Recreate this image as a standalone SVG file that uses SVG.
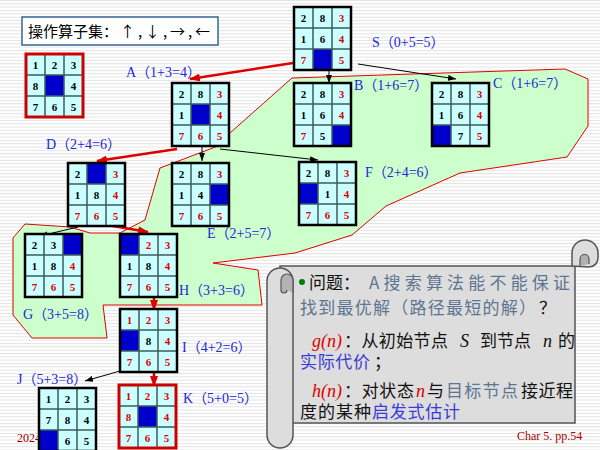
<svg xmlns="http://www.w3.org/2000/svg" xmlns:xlink="http://www.w3.org/1999/xlink" width="600" height="450" viewBox="0 0 600 450">
<style>
.n{font-family:"Liberation Serif",serif;font-weight:bold;font-size:11px;text-anchor:middle}
.r{fill:#dd0000}
.k{fill:#000}
.bl{fill:#0000cc}
.lab{font-family:"Liberation Serif","Noto Sans CJK SC",serif;font-size:14px;fill:#2424dc}
.cj{font-family:"Noto Sans CJK SC",sans-serif;font-size:17px}
.it{font-family:"Liberation Serif",serif;font-style:italic;font-size:18px}
.sl{fill:#5d7590}
.bu{fill:#3b3bd8}
.ck{fill:#111}
.ka{stroke:#000;stroke-width:1;fill:none}
.ra{stroke:#dd0000;stroke-width:2.5;fill:none}
</style>
<defs>
<pattern id="stripes" width="6" height="3.33" patternUnits="userSpaceOnUse">
<rect width="6" height="3.33" fill="#fff"/>
<rect width="6" height="1" fill="#e3e3e3"/>
</pattern>
<rect id="bg" width="57" height="63" fill="#ccffff"/>
<path id="lines" d="M19,0V63M38,0V63M0,21H57M0,42H57" stroke="#3d5c5c" stroke-width="1.5" fill="none"/>
<rect id="frame" width="57" height="63" fill="none" stroke="#000" stroke-width="2.5"/>
<rect id="rframe" width="57" height="63" fill="none" stroke="#cc0000" stroke-width="3"/>
<marker id="ak" markerUnits="userSpaceOnUse" markerWidth="8" markerHeight="6" refX="8" refY="3" orient="auto"><path d="M0,0L8,3L0,6Z" fill="#000"/></marker>
<marker id="ar" markerUnits="userSpaceOnUse" markerWidth="11" markerHeight="8" refX="10" refY="4" orient="auto"><path d="M0,0L11,4L0,8Z" fill="#dd0000"/></marker>
</defs>
<rect width="600" height="450" fill="url(#stripes)"/>
<polygon id="region" points="13,238 25,224 70,227 90,233 120,233 145,220 160,168 218,146 230,133 292,78 565,69 588,79 588,126 567,157 460,173 386,206 352,235 295,253 213,263 258,270 262,305 103,305 107,338 32,338 13,315" fill="#ccffcc" stroke="#e00000" stroke-width="1"/>
<g id="title">
<rect x="22" y="17" width="196" height="28" fill="#fff" stroke="#336699" stroke-width="1.5"/>
<text x="28" y="37" font-family="Noto Sans CJK SC,sans-serif" font-size="15" fill="#000">操作算子集：</text>
<text x="120" y="37" font-family="Noto Sans CJK SC,sans-serif" font-size="15" fill="#000" textLength="90" lengthAdjust="spacing">↑,↓,→,←</text>
</g>
<text x="17" y="442" font-family="Liberation Serif,serif" font-size="12" fill="#990000">2024</text>
<g id="scroll">
<rect x="280" y="266" width="295" height="157" fill="#dddddd" stroke="#555" stroke-width="1.5"/>
<path d="M572,266 V253 A13,13 0 0 1 598,253 V258 A9,9 0 0 1 589,267 Z" fill="#dddddd" stroke="#555" stroke-width="1.5"/>
<path d="M580,266 V259 A4.5,4.5 0 0 1 589,259 V264" fill="#b0b0b0" stroke="#555" stroke-width="1.2"/>
<rect x="267" y="268" width="26" height="180" rx="13" fill="#dddddd" stroke="#555" stroke-width="1.5"/>
<path d="M293,293 V280 A6,6 0 0 0 281,280 V290 A3,3 0 0 0 287,290" fill="#b3b3b3" stroke="#555" stroke-width="1.2"/>
<circle cx="302" cy="282" r="3" fill="#008000"/>
<text class="cj ck" x="309" y="289">问题：</text>
<text class="cj sl" x="369" y="289" textLength="201" lengthAdjust="spacing">A搜索算法能不能保证</text>
<text class="cj sl" x="300" y="314" textLength="236" lengthAdjust="spacing">找到最优解（路径最短的解）</text>
<text class="cj ck" x="539" y="314">？</text>
<text class="it r" x="312" y="347">g(n)</text>
<text class="cj ck" x="344" y="347" textLength="104" lengthAdjust="spacing">：从初始节点</text>
<text class="it ck" x="460" y="347">S</text>
<text class="cj ck" x="480" y="347" textLength="51" lengthAdjust="spacing">到节点</text>
<text class="it ck" x="543" y="347">n</text>
<text class="cj ck" x="558" y="347">的</text>
<text class="cj bu" x="300" y="368" textLength="70" lengthAdjust="spacing">实际代价</text>
<text class="cj ck" x="374" y="368">；</text>
<text class="it r" x="312" y="397">h(n)</text>
<text class="cj ck" x="344" y="397" textLength="70" lengthAdjust="spacing">：对状态</text>
<text class="it r" x="416" y="397">n</text>
<text class="cj ck" x="427" y="397">与</text>
<text class="cj sl" x="446" y="397" textLength="72" lengthAdjust="spacing">目标节点</text>
<text class="cj ck" x="521" y="397" textLength="52" lengthAdjust="spacing">接近程</text>
<text class="cj ck" x="300" y="418" textLength="71" lengthAdjust="spacing">度的某种</text>
<text class="cj bu" x="372" y="418" textLength="88" lengthAdjust="spacing">启发式估计</text>
</g>
<text x="517" y="440" font-family="Liberation Serif,serif" font-size="12" fill="#aa0000">Char 5. pp.54</text>
<g id="connectors">
<line class="ra" x1="293" y1="63" x2="190" y2="79" marker-end="url(#ar)"/>
<line class="ka" x1="329" y1="69" x2="329" y2="83" marker-end="url(#ak)"/>
<line class="ka" x1="358" y1="64" x2="456" y2="79" marker-end="url(#ak)"/>
<line class="ra" x1="177" y1="149" x2="97" y2="161" marker-end="url(#ar)"/>
<line class="ka" x1="202" y1="146" x2="202" y2="161" marker-end="url(#ak)"/>
<line class="ka" x1="220" y1="149" x2="318" y2="160" marker-end="url(#ak)"/>
<line class="ka" x1="78" y1="227" x2="40" y2="236" marker-end="url(#ak)"/>
<line class="ra" x1="107" y1="225" x2="148" y2="232" marker-end="url(#ar)"/>
<line class="ra" x1="154" y1="297" x2="154" y2="310" marker-end="url(#ar)"/>
<line class="ka" x1="120" y1="371" x2="85" y2="381" marker-end="url(#ak)"/>
<line class="ra" x1="154" y1="372" x2="154" y2="386" marker-end="url(#ar)"/>
</g>
<g id="goal" transform="translate(26,54)">
<use href="#bg"/><rect class="bl" x="19" y="21" width="19" height="21"/><use href="#lines"/>
<text class="n k" x="9.5" y="14.5">1</text><text class="n k" x="28.5" y="14.5">2</text><text class="n k" x="47.5" y="14.5">3</text>
<text class="n k" x="9.5" y="35.5">8</text><text class="n k" x="47.5" y="35.5">4</text>
<text class="n k" x="9.5" y="56.5">7</text><text class="n k" x="28.5" y="56.5">6</text><text class="n k" x="47.5" y="56.5">5</text>
<use href="#rframe"/>
</g>
<g id="S" transform="translate(294,7)">
<use href="#bg"/><rect class="bl" x="19" y="42" width="19" height="21"/><use href="#lines"/>
<text class="n k" x="9.5" y="14.5">2</text><text class="n k" x="28.5" y="14.5">8</text><text class="n r" x="47.5" y="14.5">3</text>
<text class="n k" x="9.5" y="35.5">1</text><text class="n k" x="28.5" y="35.5">6</text><text class="n r" x="47.5" y="35.5">4</text>
<text class="n r" x="9.5" y="56.5">7</text><text class="n r" x="47.5" y="56.5">5</text>
<use href="#frame"/>
</g>
<g id="B" transform="translate(294,83)">
<use href="#bg"/><rect class="bl" x="38" y="42" width="19" height="21"/><use href="#lines"/>
<text class="n k" x="9.5" y="14.5">2</text><text class="n k" x="28.5" y="14.5">8</text><text class="n r" x="47.5" y="14.5">3</text>
<text class="n k" x="9.5" y="35.5">1</text><text class="n k" x="28.5" y="35.5">6</text><text class="n r" x="47.5" y="35.5">4</text>
<text class="n r" x="9.5" y="56.5">7</text><text class="n k" x="28.5" y="56.5">5</text>
<use href="#frame"/>
</g>
<g id="C" transform="translate(432,83)">
<use href="#bg"/><rect class="bl" x="0" y="42" width="19" height="21"/><use href="#lines"/>
<text class="n k" x="9.5" y="14.5">2</text><text class="n k" x="28.5" y="14.5">8</text><text class="n r" x="47.5" y="14.5">3</text>
<text class="n k" x="9.5" y="35.5">1</text><text class="n k" x="28.5" y="35.5">6</text><text class="n r" x="47.5" y="35.5">4</text>
<text class="n k" x="28.5" y="56.5">7</text><text class="n r" x="47.5" y="56.5">5</text>
<use href="#frame"/>
</g>
<g id="A" transform="translate(172,83)">
<use href="#bg"/><rect class="bl" x="19" y="21" width="19" height="21"/><use href="#lines"/>
<text class="n k" x="9.5" y="14.5">2</text><text class="n k" x="28.5" y="14.5">8</text><text class="n r" x="47.5" y="14.5">3</text>
<text class="n k" x="9.5" y="35.5">1</text><text class="n r" x="47.5" y="35.5">4</text>
<text class="n r" x="9.5" y="56.5">7</text><text class="n r" x="28.5" y="56.5">6</text><text class="n r" x="47.5" y="56.5">5</text>
<use href="#frame"/>
</g>
<g id="D" transform="translate(68,163)">
<use href="#bg"/><rect class="bl" x="19" y="0" width="19" height="21"/><use href="#lines"/>
<text class="n k" x="9.5" y="14.5">2</text><text class="n r" x="47.5" y="14.5">3</text>
<text class="n k" x="9.5" y="35.5">1</text><text class="n k" x="28.5" y="35.5">8</text><text class="n r" x="47.5" y="35.5">4</text>
<text class="n r" x="9.5" y="56.5">7</text><text class="n r" x="28.5" y="56.5">6</text><text class="n r" x="47.5" y="56.5">5</text>
<use href="#frame"/>
</g>
<g id="E" transform="translate(172,163)">
<use href="#bg"/><rect class="bl" x="38" y="21" width="19" height="21"/><use href="#lines"/>
<text class="n k" x="9.5" y="14.5">2</text><text class="n k" x="28.5" y="14.5">8</text><text class="n r" x="47.5" y="14.5">3</text>
<text class="n k" x="9.5" y="35.5">1</text><text class="n k" x="28.5" y="35.5">4</text>
<text class="n r" x="9.5" y="56.5">7</text><text class="n r" x="28.5" y="56.5">6</text><text class="n r" x="47.5" y="56.5">5</text>
<use href="#frame"/>
</g>
<g id="F" transform="translate(299,162)">
<use href="#bg"/><rect class="bl" x="0" y="21" width="19" height="21"/><use href="#lines"/>
<text class="n k" x="9.5" y="14.5">2</text><text class="n k" x="28.5" y="14.5">8</text><text class="n r" x="47.5" y="14.5">3</text>
<text class="n k" x="28.5" y="35.5">1</text><text class="n r" x="47.5" y="35.5">4</text>
<text class="n r" x="9.5" y="56.5">7</text><text class="n r" x="28.5" y="56.5">6</text><text class="n r" x="47.5" y="56.5">5</text>
<use href="#frame"/>
</g>
<g id="G" transform="translate(25,234)">
<use href="#bg"/><rect class="bl" x="38" y="0" width="19" height="21"/><use href="#lines"/>
<text class="n k" x="9.5" y="14.5">2</text><text class="n k" x="28.5" y="14.5">3</text>
<text class="n k" x="9.5" y="35.5">1</text><text class="n k" x="28.5" y="35.5">8</text><text class="n r" x="47.5" y="35.5">4</text>
<text class="n r" x="9.5" y="56.5">7</text><text class="n r" x="28.5" y="56.5">6</text><text class="n r" x="47.5" y="56.5">5</text>
<use href="#frame"/>
</g>
<g id="H" transform="translate(120,234)">
<use href="#bg"/><rect class="bl" x="0" y="0" width="19" height="21"/><use href="#lines"/>
<text class="n r" x="28.5" y="14.5">2</text><text class="n r" x="47.5" y="14.5">3</text>
<text class="n k" x="9.5" y="35.5">1</text><text class="n k" x="28.5" y="35.5">8</text><text class="n r" x="47.5" y="35.5">4</text>
<text class="n r" x="9.5" y="56.5">7</text><text class="n r" x="28.5" y="56.5">6</text><text class="n r" x="47.5" y="56.5">5</text>
<use href="#frame"/>
</g>
<g id="I" transform="translate(120,309)">
<use href="#bg"/><rect class="bl" x="0" y="21" width="19" height="21"/><use href="#lines"/>
<text class="n r" x="9.5" y="14.5">1</text><text class="n r" x="28.5" y="14.5">2</text><text class="n r" x="47.5" y="14.5">3</text>
<text class="n k" x="28.5" y="35.5">8</text><text class="n r" x="47.5" y="35.5">4</text>
<text class="n r" x="9.5" y="56.5">7</text><text class="n r" x="28.5" y="56.5">6</text><text class="n r" x="47.5" y="56.5">5</text>
<use href="#frame"/>
</g>
<g id="J" transform="translate(39,388)">
<use href="#bg"/><rect class="bl" x="0" y="42" width="19" height="21"/><use href="#lines"/>
<text class="n k" x="9.5" y="14.5">1</text><text class="n k" x="28.5" y="14.5">2</text><text class="n k" x="47.5" y="14.5">3</text>
<text class="n k" x="9.5" y="35.5">7</text><text class="n k" x="28.5" y="35.5">8</text><text class="n k" x="47.5" y="35.5">4</text>
<text class="n k" x="28.5" y="56.5">6</text><text class="n k" x="47.5" y="56.5">5</text>
<use href="#frame"/>
</g>
<g id="K" transform="translate(119,385)">
<use href="#bg"/><rect class="bl" x="19" y="21" width="19" height="21"/><use href="#lines"/>
<text class="n r" x="9.5" y="14.5">1</text><text class="n r" x="28.5" y="14.5">2</text><text class="n r" x="47.5" y="14.5">3</text>
<text class="n r" x="9.5" y="35.5">8</text><text class="n r" x="47.5" y="35.5">4</text>
<text class="n r" x="9.5" y="56.5">7</text><text class="n r" x="28.5" y="56.5">6</text><text class="n r" x="47.5" y="56.5">5</text>
<use href="#rframe"/>
</g>
<g id="labels">
<text class="lab" x="372" y="47">S（0+5=5）</text>
<text class="lab" x="354" y="90">B（1+6=7）</text>
<text class="lab" x="493" y="88">C（1+6=7）</text>
<text class="lab" x="126" y="77">A（1+3=4）</text>
<text class="lab" x="46" y="149">D（2+4=6）</text>
<text class="lab" x="207" y="238">E（2+5=7）</text>
<text class="lab" x="365" y="177">F（2+4=6）</text>
<text class="lab" x="23" y="319">G（3+5=8）</text>
<text class="lab" x="179" y="295">H（3+3=6）</text>
<text class="lab" x="182" y="352">I（4+2=6）</text>
<text class="lab" x="17" y="384">J（5+3=8）</text>
<text class="lab" x="183" y="403">K（5+0=5）</text>
</g>
</svg>
